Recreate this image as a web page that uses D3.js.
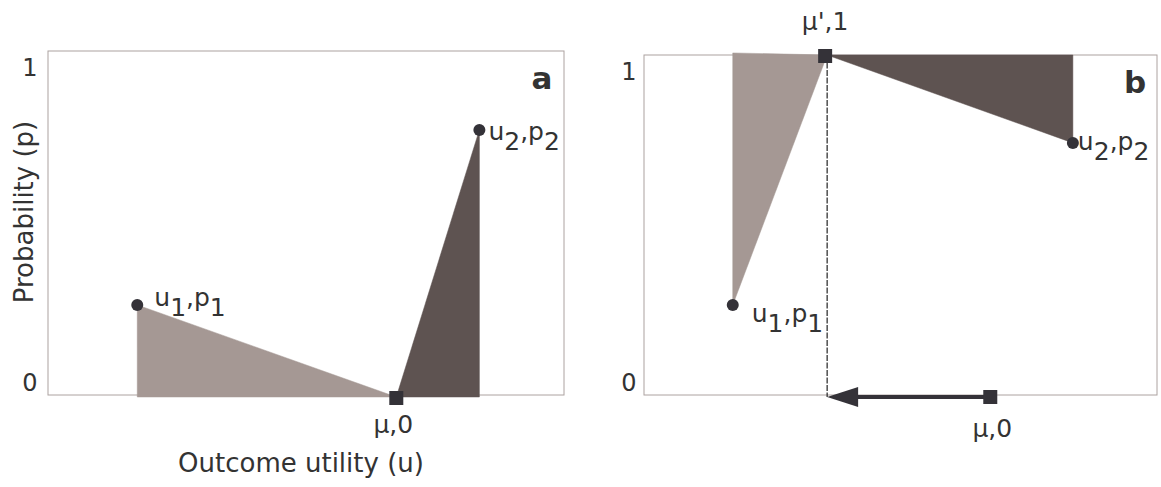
<!DOCTYPE html>
<html>
<head>
<meta charset="utf-8">
<script src="https://cdn.jsdelivr.net/npm/d3@7"></script>
<style>
  html, body { margin: 0; padding: 0; background: #fff; }
  text { font-family: "DejaVu Sans", sans-serif; fill: #333; }
</style>
</head>
<body>
<svg id="chart" width="1161" height="487"></svg>
<script>
// utilities of the two outcomes and of the mean
const outcomeU = [1.73, 8.36];
const meanU = 6.75;
const shiftedMeanU = 3.57;
// probabilities of the two outcomes, panel a and panel b
const probA = [0.266, 0.772];
const probB = [0.269, 0.743];
const probTicks = [0, 1];
const panelLetters = ["a", "b"];

const svg = d3.select("#chart");
const LIGHT = "#a59894", DARK = "#5e5351", MARK = "#343238", FRAME = "#aca2a0";

function subLabel(g, x, y, parts, anchor) {
  // parts: [text, isSubscript]
  const t = g.append("text").attr("x", x).attr("y", y)
    .attr("text-anchor", anchor || "start").style("font-size", "25px");
  let down = false;
  parts.forEach(([s, sub]) => {
    const dy = sub && !down ? 10 : (!sub && down ? -10 : 0);
    down = sub;
    t.append("tspan").attr("dy", dy).text(s);
  });
  return t;
}

function drawPanel(opt) {
  const g = svg.append("g");
  const { left, right, top, bottom } = opt;
  const x = d3.scaleLinear().domain([0, 10]).range([left, right]);
  const y = d3.scaleLinear().domain([0, 1]).range([bottom + 2, top]);

  g.append("rect").attr("x", left).attr("y", top)
    .attr("width", right - left).attr("height", bottom - top)
    .attr("fill", "none").attr("stroke", FRAME).attr("stroke-width", 1);

  // tick labels
  g.selectAll(".tick").data(probTicks).enter().append("text")
    .attr("x", left - opt.tickGap)
    .attr("y", d => y(d) + (d === 1 ? 25 : -6))
    .attr("text-anchor", "middle")
    .style("font-size", "24px")
    .text(d => d);

  g.append("text").attr("x", right - 22).attr("y", top + 38)
    .attr("text-anchor", "middle")
    .style("font-size", "31px").style("font-weight", "bold")
    .text(opt.letter);

  return { g, x, y };
}

// ---------- panel a ----------
{
  const { g, x, y } = drawPanel({ left: 48, right: 564, top: 51, bottom: 395, tickGap: 18, letter: panelLetters[0] });
  const p = probA;
  const line = d3.line().x(d => x(d[0])).y(d => y(d[1]));

  g.append("path").attr("d", line([[outcomeU[0], p[0]], [outcomeU[0], 0], [meanU, 0]]) + "Z")
    .attr("fill", LIGHT).attr("stroke", LIGHT).attr("stroke-width", 0.5);
  g.append("path").attr("d", line([[meanU, 0], [outcomeU[1], p[1]], [outcomeU[1], 0]]) + "Z")
    .attr("fill", DARK).attr("stroke", DARK).attr("stroke-width", 0.5);

  g.selectAll(".pt").data(outcomeU).enter().append("circle")
    .attr("cx", d => x(d)).attr("cy", (d, i) => y(p[i])).attr("r", 6).attr("fill", MARK);
  g.append("rect").attr("x", x(meanU) - 7).attr("y", y(0) - 6).attr("width", 14).attr("height", 14).attr("fill", MARK);

  subLabel(g, x(outcomeU[0]) + 17, y(p[0]) + 1, [["u", 0], ["1", 1], [",p", 0], ["1", 1]]);
  subLabel(g, x(outcomeU[1]) + 9, y(p[1]) + 10, [["u", 0], ["2", 1], [",p", 0], ["2", 1]]);
  subLabel(g, x(meanU) - 3, y(0) + 36, [["μ,0", 0]], "middle");

  g.append("text").attr("x", 301).attr("y", 472).attr("text-anchor", "middle")
    .style("font-size", "26px").text("Outcome utility (u)");
  g.append("text").attr("transform", "translate(33,212) rotate(-90)").attr("text-anchor", "middle")
    .style("font-size", "26px").text("Probability (p)");
}

// ---------- panel b ----------
{
  const { g, x, y } = drawPanel({ left: 644, right: 1157, top: 55, bottom: 395, tickGap: 15, letter: panelLetters[1] });
  const p = probB;
  const line = d3.line().x(d => x(d[0])).y(d => y(d[1]));

  g.append("path").attr("d", line([[outcomeU[0], 1.006], [shiftedMeanU, 1], [outcomeU[0], p[0]]]) + "Z")
    .attr("fill", LIGHT).attr("stroke", LIGHT).attr("stroke-width", 0.5);
  g.append("path").attr("d", line([[shiftedMeanU, 1], [outcomeU[1], 1], [outcomeU[1], p[1]]]) + "Z")
    .attr("fill", DARK).attr("stroke", DARK).attr("stroke-width", 0.5);

  // dashed drop line from mu' to the axis
  g.append("line").attr("x1", x(shiftedMeanU)).attr("x2", x(shiftedMeanU))
    .attr("y1", y(1)).attr("y2", y(0))
    .attr("stroke", "#222").attr("stroke-width", 1.2).attr("stroke-dasharray", "6,1.5");

  // arrow from mu to mu'
  const tipX = x(shiftedMeanU), baseX = tipX + 31, yy = y(0);
  g.append("line").attr("x1", x(meanU)).attr("x2", baseX - 2).attr("y1", yy).attr("y2", yy)
    .attr("stroke", MARK).attr("stroke-width", 4);
  g.append("path").attr("d", `M${tipX},${yy}L${baseX},${yy - 10}L${baseX},${yy + 10}Z`).attr("fill", MARK);

  g.selectAll(".pt").data(outcomeU).enter().append("circle")
    .attr("cx", d => x(d)).attr("cy", (d, i) => y(p[i])).attr("r", 6).attr("fill", MARK);
  g.append("rect").attr("x", x(meanU) - 7).attr("y", y(0) - 7).attr("width", 14).attr("height", 14).attr("fill", MARK);
  g.append("rect").attr("x", x(shiftedMeanU) - 9).attr("y", y(1) - 6).attr("width", 14).attr("height", 14).attr("fill", MARK);

  subLabel(g, x(outcomeU[0]) + 19, y(p[0]) + 17, [["u", 0], ["1", 1], [",p", 0], ["1", 1]]);
  subLabel(g, x(outcomeU[1]) + 5, y(p[1]) + 7, [["u", 0], ["2", 1], [",p", 0], ["2", 1]]);
  subLabel(g, x(meanU) + 2, y(0) + 40, [["μ,0", 0]], "middle");
  subLabel(g, x(shiftedMeanU) - 2, y(1) - 25, [["μ',1", 0]], "middle");
}
</script>
</body>
</html>
